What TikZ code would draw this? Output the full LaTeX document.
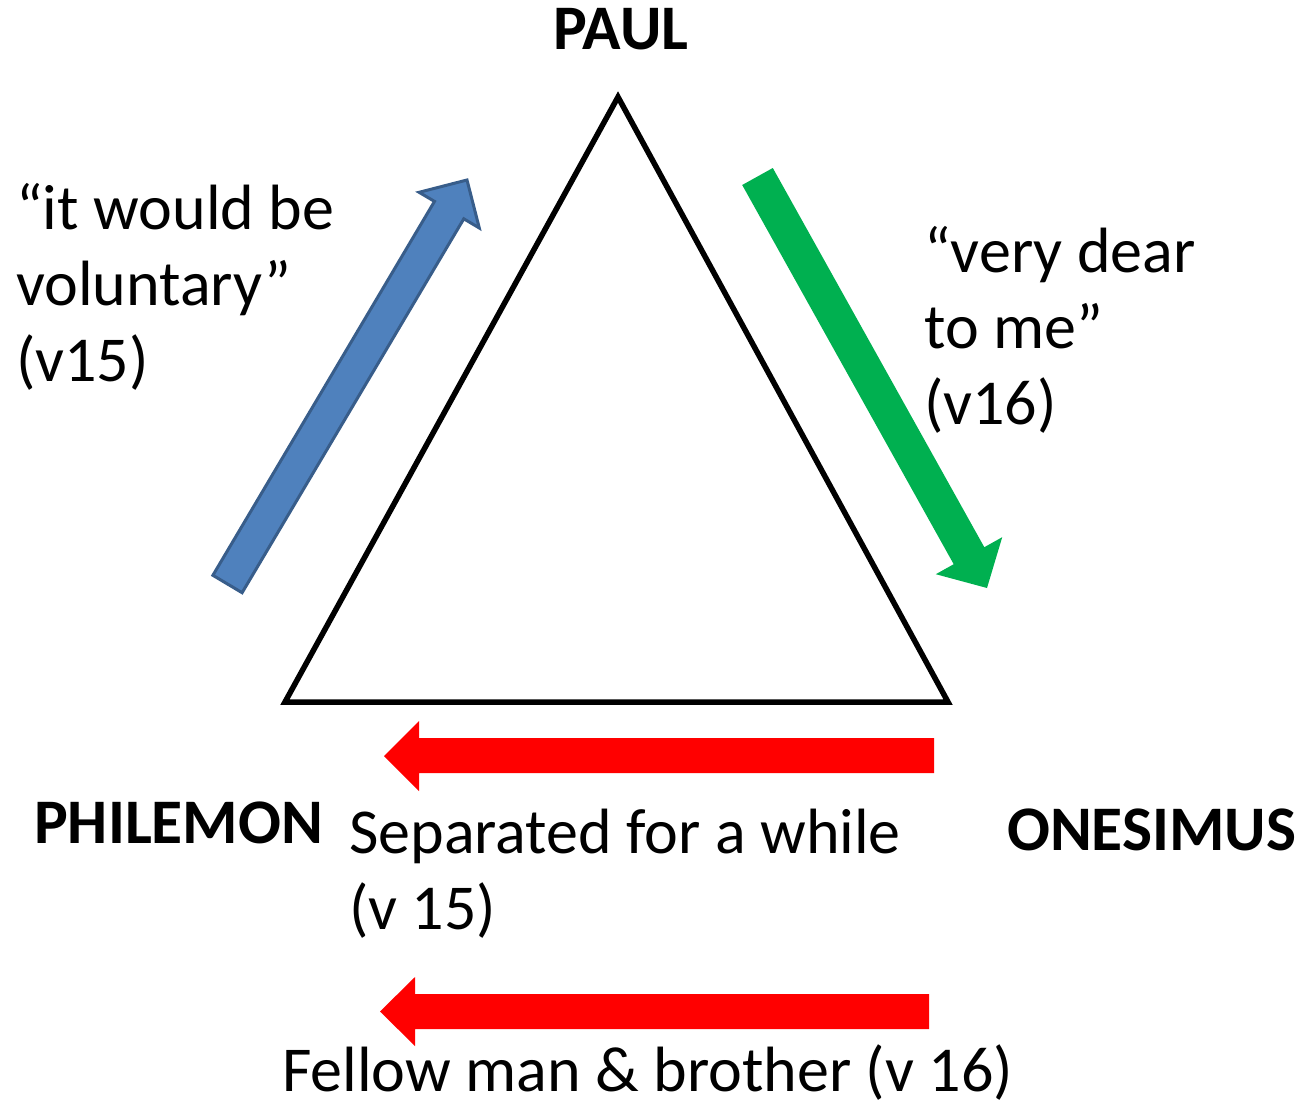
\documentclass[tikz,border=0pt]{standalone}
\usepackage{fontspec}
\setmainfont{Carlito}
\definecolor{bluefill}{HTML}{4F81BD}
\definecolor{blueline}{HTML}{385D8A}
\definecolor{greenfill}{HTML}{00B050}
\definecolor{redfill}{HTML}{FF0000}
\tikzset{
  lbl/.style={anchor=base west, inner sep=0pt, font=\fontsize{64}{78}\selectfont},
  personname/.style={anchor=base west, inner sep=0pt, font=\fontsize{63.5}{78}\selectfont\bfseries},
  tri/.style={draw=black, line width=5.5pt, line join=miter},
  bluearrow/.style={fill=bluefill, draw=blueline, line width=3pt, line join=miter},
  greenarrow/.style={fill=greenfill, draw=none},
  redarrow/.style={fill=redfill, draw=none}
}
\begin{document}
\begin{tikzpicture}[x=1pt,y=-1pt]
\useasboundingbox (0,0) rectangle (1306,1108);
% triangle
\coordinate (apex) at (618,97);
\coordinate (bl) at (285,702);
\coordinate (br) at (948,702);
\draw[tri] (apex) -- (br) -- (bl) -- cycle;
% blue arrow (up-right)
\draw[bluearrow] (212.9,575.3) -- (434.5,201.4) -- (419.1,192.3) -- (467,180) -- (479.3,228.0) -- (463.8,218.8) -- (242.1,592.7) -- cycle;
% green arrow (down-right)
\fill[greenarrow] (772.8,168.0) -- (984.3,547.2) -- (1002.2,537.2) -- (987,588) -- (935.8,574.2) -- (953.7,564.2) -- (742.2,185.0) -- cycle;
% red arrows (leftwards)
\fill[redarrow] (934,738) -- (419,738) -- (419,721) -- (384,756) -- (419,791) -- (419,773) -- (934,773) -- cycle;
\fill[redarrow] (929,994) -- (415,994) -- (415,977) -- (380,1011.5) -- (415,1046) -- (415,1029) -- (929,1029) -- cycle;
% names
\node[personname, anchor=base] (paul) at (621,50) {PAUL};
\node[personname] (philemon) at (34,843) {PHILEMON};
\node[personname] (onesimus) at (1007,850) {ONESIMUS};
% labels
\node[lbl] (v15a) at (16,229) {“it would be};
\node[lbl] (v15b) at (16,305) {voluntary”};
\node[lbl] (v15c) at (16,381) {(v15)};
\node[lbl] (v16a) at (924,272) {“very dear};
\node[lbl] (v16b) at (924,348) {to me”};
\node[lbl] (v16c) at (924,424) {(v16)};
\node[lbl] (sepa) at (349,853) {Separated for a while};
\node[lbl] (sepb) at (349,929) {(v 15)};
\node[lbl] (fellow) at (282,1091) {Fellow man \& brother (v 16)};
\end{tikzpicture}
\end{document}
